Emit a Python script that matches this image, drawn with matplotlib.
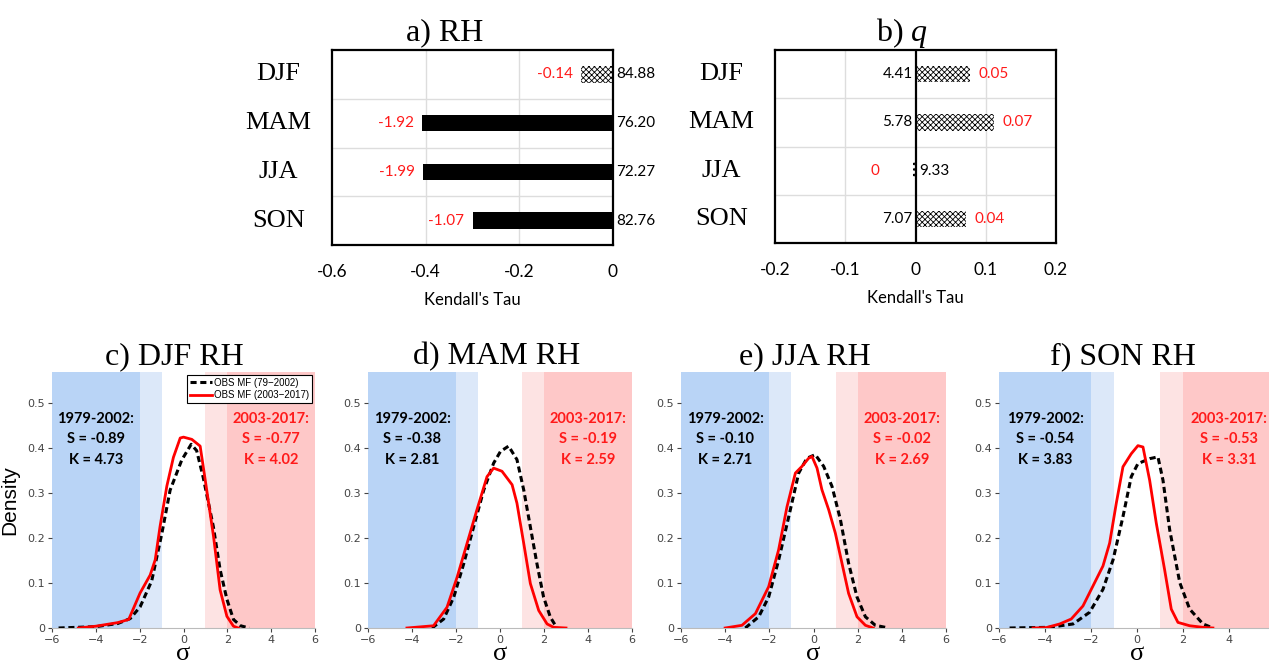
import matplotlib
matplotlib.use("Agg")
import matplotlib.pyplot as plt
from matplotlib.ticker import FuncFormatter

# ---- data ----
seasons = ["DJF", "MAM", "JJA", "SON"]

rh_tau = [-0.068, -0.408, -0.405, -0.300]
rh_z = ["-0.14", "-1.92", "-1.99", "-1.07"]
rh_mean = ["84.88", "76.20", "72.27", "82.76"]
rh_hatched = [True, False, False, False]

q_tau = [0.078, 0.112, -0.003, 0.072]
q_z = ["0.05", "0.07", "0", "0.04"]
q_mean = ["4.41", "5.78", "9.33", "7.07"]

# density curves (sigma, density) per season, old = 1979-2002, new = 2003-2017
djf_old_x = [-5.7, -4.0, -3.0, -2.43, -1.98, -1.45, -0.99, -0.61, -0.08, 0.35, 0.6, 0.9, 1.36, 1.67, 1.98, 2.28, 2.6, 3.0]
djf_old_y = [0.0, 0.003, 0.01, 0.021, 0.047, 0.105, 0.21, 0.307, 0.374, 0.409, 0.395, 0.335, 0.226, 0.13, 0.064, 0.019, 0.005, 0.0]
djf_new_x = [-4.8, -4.0, -3.0, -2.5, -1.98, -1.52, -1.29, -1.07, -0.76, -0.46, -0.15, 0.0, 0.38, 0.76, 0.99, 1.37, 1.67, 1.98, 2.28, 2.5]
djf_new_y = [0.0, 0.004, 0.012, 0.019, 0.078, 0.118, 0.152, 0.226, 0.316, 0.38, 0.423, 0.425, 0.42, 0.405, 0.33, 0.204, 0.085, 0.026, 0.004, 0.0]

mam_old_x = [-3.09, -2.56, -2.1, -1.65, -1.2, -0.74, -0.29, 0.02, 0.39, 0.77, 1.08, 1.38, 1.68, 1.98, 2.29, 2.59]
mam_old_y = [0.0, 0.02, 0.069, 0.143, 0.225, 0.307, 0.367, 0.393, 0.405, 0.375, 0.307, 0.225, 0.143, 0.069, 0.024, 0.0]
mam_new_x = [-4.23, -3.02, -2.41, -1.95, -1.5, -1.05, -0.59, -0.29, 0.09, 0.55, 0.77, 1.08, 1.38, 1.76, 2.14, 2.44, 3.0]
mam_new_y = [0.0, 0.005, 0.046, 0.113, 0.188, 0.263, 0.337, 0.356, 0.349, 0.319, 0.278, 0.188, 0.099, 0.039, 0.009, 0.0015, 0.0]

jja_old_x = [-3.09, -2.48, -2.03, -1.58, -1.12, -0.67, -0.3, 0.08, 0.46, 0.84, 1.22, 1.59, 1.97, 2.35, 2.8, 3.4]
jja_old_y = [0.0, 0.025, 0.069, 0.151, 0.248, 0.345, 0.378, 0.386, 0.36, 0.315, 0.241, 0.144, 0.069, 0.025, 0.006, 0.0]
jja_new_x = [-4.0, -3.24, -2.63, -2.03, -1.58, -1.2, -0.82, -0.52, -0.22, -0.07, 0.16, 0.38, 0.69, 0.99, 1.29, 1.59, 1.97, 2.35, 2.7]
jja_new_y = [0.0, 0.006, 0.032, 0.092, 0.174, 0.27, 0.345, 0.36, 0.378, 0.382, 0.356, 0.308, 0.263, 0.211, 0.144, 0.077, 0.025, 0.006, 0.0]

son_old_x = [-5.54, -3.8, -2.78, -2.06, -1.48, -1.04, -0.61, -0.25, 0.04, 0.55, 0.91, 1.13, 1.42, 1.86, 2.29, 2.87, 3.3]
son_old_y = [0.0, 0.0015, 0.009, 0.035, 0.086, 0.152, 0.248, 0.337, 0.366, 0.377, 0.381, 0.329, 0.219, 0.101, 0.042, 0.009, 0.0]
son_new_x = [-4.52, -3.94, -3.36, -2.86, -2.35, -1.91, -1.48, -1.19, -0.9, -0.61, -0.25, 0.04, 0.26, 0.55, 0.84, 1.2, 1.49, 1.78, 2.29, 2.87, 3.3]
son_new_y = [0.0, 0.001, 0.009, 0.02, 0.049, 0.094, 0.138, 0.189, 0.278, 0.359, 0.388, 0.406, 0.403, 0.329, 0.233, 0.13, 0.042, 0.0125, 0.005, 0.0015, 0.0]

panel_titles = ["c) DJF RH", "d) MAM RH", "e) JJA RH", "f) SON RH"]
stats_old = [("-0.89", "4.73"), ("-0.38", "2.81"), ("-0.10", "2.71"), ("-0.54", "3.83")]
stats_new = [("-0.77", "4.02"), ("-0.19", "2.59"), ("-0.02", "2.69"), ("-0.53", "3.31")]

serif = "Liberation Serif"
calib = "Lato"
RED = "#ff1a1a"

plt.rcParams["hatch.linewidth"] = 0.6
plt.rcParams["mathtext.fontset"] = "custom"
plt.rcParams["mathtext.it"] = "Liberation Serif:italic"

fig = plt.figure(figsize=(12.69, 6.65), dpi=100)
W, H = 1269, 665


def ax_px(x0, y0, x1, y1):
    return fig.add_axes([x0 / W, 1 - y1 / H, (x1 - x0) / W, (y1 - y0) / H])


def bar_panel(ax, xlim, grid_x):
    ax.set_xlim(*xlim)
    ax.set_ylim(3.5, -0.5)
    for gx in grid_x:
        ax.axvline(gx, color="#dddddd", lw=1, zorder=0)
    for gy in [0.5, 1.5, 2.5]:
        ax.axhline(gy, color="#dddddd", lw=1, zorder=0)
    ax.set_yticks([])
    ax.tick_params(axis="x", length=0, pad=14, labelsize=12.5)
    for lab in ax.get_xticklabels():
        lab.set_fontfamily(calib)
    for s in ax.spines.values():
        s.set_linewidth(1.6)
    ax.set_xlabel("Kendall's Tau", fontsize=12, fontfamily=calib, labelpad=8)
    for i, s in enumerate(seasons):
        ax.text(-0.19, i, s, transform=ax.get_yaxis_transform(), ha="center", va="center",
                fontsize=19, fontfamily=serif)


# ---- a) RH ----
axa = ax_px(332, 50, 613, 245)
bar_panel(axa, (-0.6, 0), [-0.4, -0.2])
axa.set_xticks([-0.6, -0.4, -0.2, 0])
axa.set_xticklabels(["-0.6", "-0.4", "-0.2", "0"])
for i in range(4):
    if rh_hatched[i]:
        axa.barh(i, rh_tau[i], height=0.34, color="white", edgecolor="black", hatch="xxxxxx", lw=0, zorder=2)
    else:
        axa.barh(i, rh_tau[i], height=0.34, color="black", zorder=2)
    axa.annotate(rh_z[i], (rh_tau[i], i), xytext=(-6, 0), textcoords="offset points",
                 ha="right", va="center", color=RED, fontsize=11, fontfamily=calib)
    axa.annotate(rh_mean[i], (0, i), xytext=(2, 0), textcoords="offset points",
                 ha="left", va="center", color="black", fontsize=11, fontfamily=calib,
                 annotation_clip=False)
fig.text(445 / W, 1 - 33 / H, "a) RH", ha="center", va="center", fontsize=23, fontfamily=serif)

# ---- b) q ----
axb = ax_px(775, 50, 1056, 243)
bar_panel(axb, (-0.2, 0.2), [-0.1, 0.1])
axb.axvline(0, color="black", lw=1.6, zorder=3)
axb.set_xticks([-0.2, -0.1, 0, 0.1, 0.2])
axb.set_xticklabels(["-0.2", "-0.1", "0", "0.1", "0.2"])
for i in range(4):
    axb.barh(i, q_tau[i], height=0.34, color="white", edgecolor="black", hatch="xxxxxx", lw=0, zorder=2)
    if q_tau[i] >= 0:
        axb.annotate(q_mean[i], (0, i), xytext=(-2, 0), textcoords="offset points",
                     ha="right", va="center", fontsize=11, fontfamily=calib)
        axb.annotate(q_z[i], (q_tau[i], i), xytext=(6, 0), textcoords="offset points",
                     ha="left", va="center", color=RED, fontsize=11, fontfamily=calib)
    else:
        axb.annotate(q_mean[i], (0, i), xytext=(3, 0), textcoords="offset points",
                     ha="left", va="center", fontsize=11, fontfamily=calib)
        axb.text(-0.058, i, q_z[i], ha="center", va="center", color=RED, fontsize=11, fontfamily=calib)
fig.text(902 / W, 1 - 33 / H, "b) $q$", ha="center", va="center", fontsize=23, fontfamily=serif)

# ---- c-f) density panels ----
curves = [
    (djf_old_x, djf_old_y, djf_new_x, djf_new_y),
    (mam_old_x, mam_old_y, mam_new_x, mam_new_y),
    (jja_old_x, jja_old_y, jja_new_x, jja_new_y),
    (son_old_x, son_old_y, son_new_x, son_new_y),
]
boxes = [(52, 315), (368, 632), (681, 946), (999, 1275)]
title_x = [174, 497, 805, 1123]

for k in range(4):
    x0, x1 = boxes[k]
    ax = ax_px(x0, 372, x1, 628)
    ax.set_xlim(-6, 6)
    ax.set_ylim(0, 0.57)
    ax.axvspan(-6, -2, color="#b9d4f6", lw=0, zorder=0)
    ax.axvspan(-2, -1, color="#dce8f9", lw=0, zorder=0)
    ax.axvspan(1, 2, color="#fde3e3", lw=0, zorder=0)
    ax.axvspan(2, 6, color="#fec8c8", lw=0, zorder=0)
    ox, oy, nx, ny = curves[k]
    ax.plot(ox, oy, color="black", lw=2.2, linestyle=(0, (2, 1.2)), label="OBS MF (79\u22122002)", zorder=3)
    ax.plot(nx, ny, color="#ff0000", lw=2, label="OBS MF (2003\u22122017)", zorder=4)
    for s in ["top", "right", "left"]:
        ax.spines[s].set_visible(False)
    ax.spines["bottom"].set_color("#bbbbbb")
    ax.set_xticks([-6, -4, -2, 0, 2, 4, 6] if k < 3 else [-6, -4, -2, 0, 2, 4])
    ax.set_yticks([0, 0.1, 0.2, 0.3, 0.4, 0.5])
    ax.yaxis.set_major_formatter(FuncFormatter(lambda v, p: "0" if v == 0 else f"{v:.1f}"))
    ax.tick_params(labelsize=8, colors="#444444", length=3, width=0.8, pad=2)
    # sigma label sits right at the bottom edge, as in the reference
    ax.text(0.5, -0.125, "\u03c3", transform=ax.transAxes, ha="center", va="baseline",
            fontsize=19, fontfamily=serif)
    so, ko = stats_old[k]
    sn, kn = stats_new[k]
    ax.text(-4, 0.42, f"1979-2002:\nS = {so}\nK = {ko}", ha="center", va="center",
            fontsize=10.5, fontweight="bold", fontfamily=calib, linespacing=1.6, zorder=5)
    ax.text(4, 0.42, f"2003-2017:\nS = {sn}\nK = {kn}", ha="center", va="center", color=RED,
            fontsize=10.5, fontweight="bold", fontfamily=calib, linespacing=1.6, zorder=5)
    fig.text(title_x[k] / W, 1 - 357 / H, panel_titles[k], ha="center", va="center",
             fontsize=23, fontfamily=serif)
    if k == 0:
        ax.set_ylabel("Density", fontsize=15, fontfamily="Liberation Sans", labelpad=4)
        ax.yaxis.set_label_coords(-0.125, 0.5)
        leg = ax.legend(loc="upper right", fontsize=7, frameon=True, fancybox=False,
                        framealpha=1, edgecolor="black", handlelength=2.3, handletextpad=0.2,
                        borderpad=0.3, labelspacing=0.25, borderaxespad=0.3)
        leg.get_frame().set_linewidth(0.8)
        for t in leg.get_texts():
            t.set_fontfamily("Liberation Sans")

fig.savefig("out.png", dpi=100)
